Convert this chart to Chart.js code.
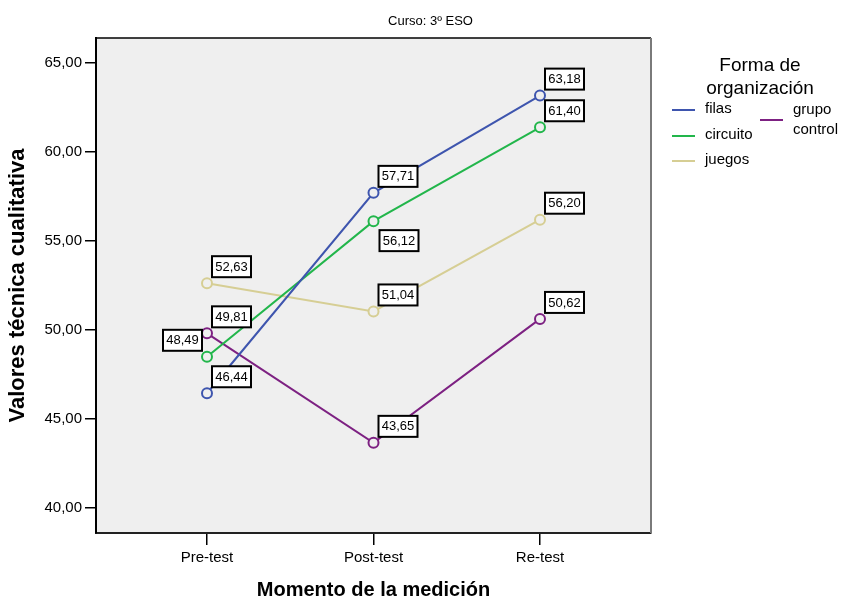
<!DOCTYPE html>
<html>
<head>
  <title>Valores técnica cualitativa - Curso 3º ESO</title>
  <script src="https://cdn.jsdelivr.net/npm/chart.js"></script>
  <style>
    body { margin: 0; background: #fff; }
  </style>
</head>
<body>
  <canvas id="chart" width="841" height="599"></canvas>
  <script>
    const momentos = ["Pre-test", "Post-test", "Re-test"];
    const filas = [46.44, 57.71, 63.18];
    const circuito = [48.49, 56.12, 61.40];
    const juegos = [52.63, 51.04, 56.20];
    const grupoControl = [49.81, 43.65, 50.62];
    const yTicks = [40, 45, 50, 55, 60, 65];

    const FONT = "'Liberation Sans', Arial, sans-serif";
    const PLOT_BG = "#efefef";
    const fmt = v => v.toFixed(2).replace(".", ",");

    // dónde va la etiqueta de cada punto (ne = arriba derecha, nw = arriba izquierda, se = abajo derecha)
    const series = [
      { label: "filas", values: filas, color: "#3e55ae", place: ["ne", "ne", "ne"] },
      { label: "circuito", values: circuito, color: "#22b64b", place: ["nw", "se", "ne"] },
      { label: "juegos", values: juegos, color: "#d6ce94", place: ["ne", "ne", "ne"] },
      { label: "grupo control", values: grupoControl, color: "#7d2182", place: ["ne", "ne", "ne"] }
    ];

    const datasets = series.map(s => ({
      label: s.label,
      data: s.values.map((v, i) => ({ x: i + 1, y: v })),
      borderColor: s.color,
      borderWidth: 2,
      pointRadius: 5,
      pointBorderWidth: 2,
      pointBorderColor: s.color,
      pointBackgroundColor: PLOT_BG,
      tension: 0,
      place: s.place
    }));

    const plotBg = {
      id: "plotBg",
      beforeDraw(chart) {
        const { ctx, chartArea: a } = chart;
        ctx.save();
        ctx.fillStyle = PLOT_BG;
        ctx.fillRect(a.left, a.top, a.right - a.left, a.bottom - a.top);
        ctx.restore();
      },
      beforeDatasetsDraw(chart) {
        const { ctx, chartArea: a } = chart;
        ctx.save();
        ctx.strokeStyle = "#000";
        ctx.lineWidth = 1.5;
        ctx.beginPath();
        ctx.moveTo(a.left, a.top);
        ctx.lineTo(a.right, a.top);
        ctx.stroke();
        ctx.strokeStyle = "#7a7a7a";
        ctx.lineWidth = 2;
        ctx.beginPath();
        ctx.moveTo(a.right, a.top);
        ctx.lineTo(a.right, a.bottom);
        ctx.stroke();
        ctx.restore();
      }
    };

    const valueBoxes = {
      id: "valueBoxes",
      afterDatasetsDraw(chart) {
        const ctx = chart.ctx;
        ctx.save();
        ctx.font = "13px " + FONT;
        ctx.textBaseline = "middle";
        ctx.textAlign = "center";
        chart.data.datasets.forEach((ds, di) => {
          chart.getDatasetMeta(di).data.forEach((pt, i) => {
            const txt = fmt(ds.data[i].y);
            const w = Math.round(ctx.measureText(txt).width) + 6, h = 21;
            let bx, by;
            if (ds.place[i] === "nw") { bx = pt.x - 5 - w; by = pt.y - 27; }
            else if (ds.place[i] === "se") { bx = pt.x + 6; by = pt.y + 9; }
            else { bx = pt.x + 5; by = pt.y - 27; }
            ctx.fillStyle = "#fff";
            ctx.fillRect(bx, by, w, h);
            ctx.strokeStyle = "#000";
            ctx.lineWidth = 2;
            ctx.strokeRect(bx, by, w, h);
            ctx.fillStyle = "#000";
            ctx.fillText(txt, bx + w / 2, by + h / 2 + 0.5);
          });
        });
        ctx.restore();
      }
    };

    const sideLegend = {
      id: "sideLegend",
      afterDraw(chart) {
        const ctx = chart.ctx;
        const ds = chart.data.datasets;
        ctx.save();
        ctx.fillStyle = "#000";
        ctx.textBaseline = "middle";
        ctx.textAlign = "center";
        ctx.font = "19px " + FONT;
        ctx.fillText("Forma de", 760, 66);
        ctx.fillText("organización", 760, 89);
        ctx.font = "15px " + FONT;
        ctx.textAlign = "left";
        const spots = [
          { x: 672, y: 110 },
          { x: 672, y: 136 },
          { x: 672, y: 161 },
          { x: 760, y: 120 }
        ];
        ds.forEach((d, i) => {
          const s = spots[i];
          ctx.strokeStyle = d.borderColor;
          ctx.lineWidth = 2;
          ctx.beginPath();
          ctx.moveTo(s.x, s.y);
          ctx.lineTo(s.x + 23, s.y);
          ctx.stroke();
          const words = i === 3 ? d.label.split(" ") : [d.label];
          const y0 = words.length > 1 ? s.y - 10 : s.y - 1;
          words.forEach((w, k) => ctx.fillText(w, s.x + 33, y0 + k * 20));
        });
        ctx.restore();
      }
    };

    new Chart(document.getElementById("chart"), {
      type: "line",
      data: { datasets: datasets },
      plugins: [plotBg, valueBoxes, sideLegend],
      options: {
        responsive: false,
        animation: false,
        layout: { padding: { left: 20, right: 0, top: 0, bottom: 0 } },
        plugins: {
          legend: { display: false },
          tooltip: { enabled: false },
          title: {
            display: true,
            text: "Curso: 3º ESO",
            color: "#000",
            font: { family: FONT, size: 13, weight: "normal" },
            padding: { top: 14, bottom: 8.4 }
          }
        },
        scales: {
          x: {
            type: "linear",
            min: 1 / 3,
            max: 11 / 3,
            afterBuildTicks: s => { s.ticks = momentos.map((m, i) => ({ value: i + 1 })); },
            afterFit: s => { s.height = 66; },
            ticks: {
              callback: v => momentos[v - 1],
              color: "#000",
              font: { family: FONT, size: 15 },
              padding: 4,
              maxRotation: 0
            },
            grid: { drawOnChartArea: false, tickLength: 12, color: "#000", lineWidth: 1.5 },
            border: { color: "#222", width: 2 },
            title: {
              display: true,
              text: "Momento de la medición",
              color: "#000",
              font: { family: FONT, size: 20, weight: "bold" },
              padding: { top: 0, bottom: -3 }
            }
          },
          y: {
            min: 38.58,
            max: 66.42,
            afterBuildTicks: s => { s.ticks = yTicks.map(v => ({ value: v })); },
            afterFit: s => { s.width = 76; },
            ticks: {
              callback: v => fmt(v),
              color: "#000",
              font: { family: FONT, size: 15 },
              padding: 3
            },
            grid: { drawOnChartArea: false, tickLength: 11, color: "#000", lineWidth: 1.5 },
            border: { color: "#000", width: 2 },
            title: {
              display: true,
              text: "Valores técnica cualitativa",
              color: "#000",
              font: { family: FONT, size: 22, weight: "bold" },
              padding: { top: -15.2, bottom: 0 }
            }
          },
          yr: {
            position: "right",
            display: true,
            ticks: { display: false },
            grid: { display: false },
            border: { display: false },
            afterFit: s => { s.width = 190; }
          }
        }
      }
    });
  </script>
</body>
</html>
